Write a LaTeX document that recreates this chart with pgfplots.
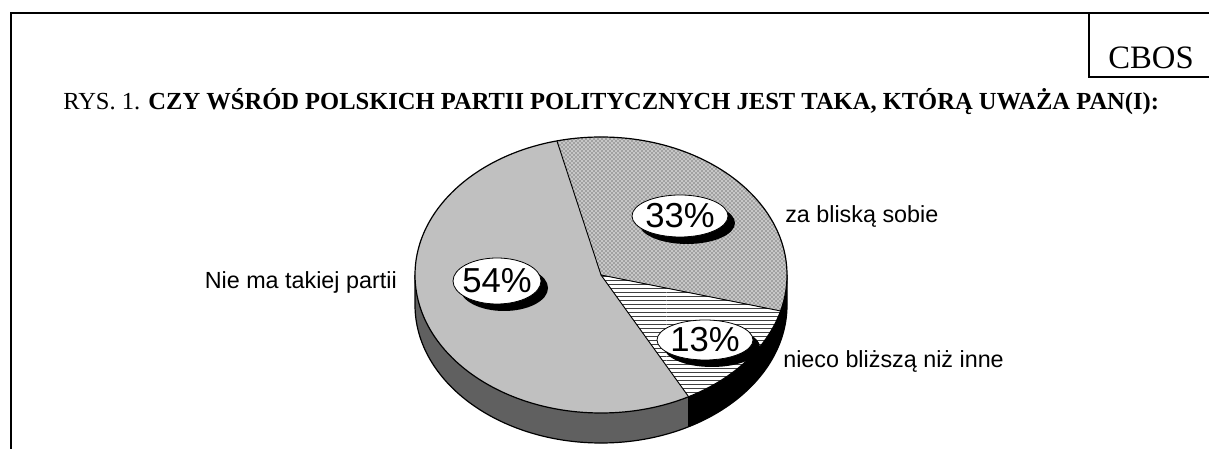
\documentclass[border=0pt]{standalone}
\usepackage{pgfplots}
\pgfplotsset{compat=1.18}
\usepackage{pgfplotstable}
\usetikzlibrary{patterns}
\usepackage{fontspec}
\setmainfont{Liberation Serif}
\newfontfamily\arial{Liberation Sans}

\pgfplotstableread[col sep=comma]{
name,value
za bliską sobie,33
nieco bliższą niż inne,13
Nie ma takiej partii,54
}\pietable
\pgfplotstablegetelem{0}{value}\of\pietable \let\va\pgfplotsretval
\pgfplotstablegetelem{1}{value}\of\pietable \let\vb\pgfplotsretval
\pgfplotstablegetelem{2}{value}\of\pietable \let\vc\pgfplotsretval
\pgfmathsetmacro\tA{103.7}
\pgfmathsetmacro\tB{\tA-3.6*\va}
\pgfmathsetmacro\tC{\tB-3.6*\vb}
\pgfmathsetmacro\tD{\tC-3.6*\vc}
\def\cx{601}\def\cy{174}\def\rx{186}\def\ry{138}
\def\RX{139.5pt}\def\RY{103.5pt}\def\DEP{22.5pt}
\newcommand\ep[1]{(axis cs:{\cx+\rx*cos(#1)},{\cy+\ry*sin(#1)})}
\definecolor{piegray}{RGB}{192,192,192}
\definecolor{sidegray}{RGB}{96,96,96}

\begin{document}
\begin{tikzpicture}
\begin{axis}[width=906.75pt,height=336.75pt,scale only axis,hide axis,
  xmin=0,xmax=1209,ymin=0,ymax=449,clip=false]
\path (axis cs:0,0) rectangle (axis cs:1209,449);
% frame
\draw[line width=1.6pt] (axis cs:11,0) -- (axis cs:11,436) -- (axis cs:1209,436);
\draw[line width=1.6pt] (axis cs:1089,436) -- (axis cs:1089,372) -- (axis cs:1209,372);
\node[anchor=base, font=\fontsize{24.5pt}{26pt}\selectfont, inner sep=0pt] at (axis cs:1151,380) {CBOS};
\node[anchor=base west, font=\fontsize{18.4pt}{20pt}\selectfont, inner sep=0pt] at (axis cs:63,339)
  {RYS. 1. \textbf{CZY WŚRÓD POLSKICH PARTII POLITYCZNYCH JEST TAKA, KTÓRĄ UWAŻA PAN(I):}};
% sides
\fill[sidegray] \ep{-180} arc[start angle=-180, end angle=\tC, x radius=\RX, y radius=\RY]
   -- ++(0pt,-\DEP) arc[start angle=\tC, end angle=-180, x radius=\RX, y radius=\RY] -- cycle;
\fill[black] \ep{\tC} arc[start angle=\tC, end angle=0, x radius=\RX, y radius=\RY]
   -- ++(0pt,-\DEP) arc[start angle=0, end angle=\tC, x radius=\RX, y radius=\RY] -- cycle;
\draw[line width=0.9pt] \ep{-180} -- ++(0pt,-\DEP) arc[start angle=-180, end angle=0, x radius=\RX, y radius=\RY] -- ++(0pt,\DEP);
\draw[line width=0.9pt] \ep{\tC} -- ++(0pt,-\DEP);
% top slices
\fill[black!22] (axis cs:\cx,\cy) -- \ep{\tA} arc[start angle=\tA, end angle=\tB, x radius=\RX, y radius=\RY] -- cycle;
\fill[pattern=crosshatch dots, pattern color=black!85] (axis cs:\cx,\cy) -- \ep{\tA} arc[start angle=\tA, end angle=\tB, x radius=\RX, y radius=\RY] -- cycle;
\fill[white] (axis cs:\cx,\cy) -- \ep{\tB} arc[start angle=\tB, end angle=\tC, x radius=\RX, y radius=\RY] -- cycle;
\fill[pattern=horizontal lines, pattern color=black!75] (axis cs:\cx,\cy) -- \ep{\tB} arc[start angle=\tB, end angle=\tC, x radius=\RX, y radius=\RY] -- cycle;
\fill[piegray] (axis cs:\cx,\cy) -- \ep{\tC} arc[start angle=\tC, end angle=\tD, x radius=\RX, y radius=\RY] -- cycle;
\draw[line width=0.9pt] (axis cs:\cx,\cy) ellipse[x radius=\RX, y radius=\RY];
\draw[line width=0.7pt] \ep{\tA} -- (axis cs:\cx,\cy) -- \ep{\tB};
\draw[line width=0.7pt] (axis cs:\cx,\cy) -- \ep{\tC};
% percentage labels
\fill (axis cs:504,161) ellipse[x radius=33pt, y radius=17.25pt];
\filldraw[fill=white, line width=0.6pt] (axis cs:497,168) ellipse[x radius=33pt, y radius=17.25pt];
\node[font=\arial\fontsize{26pt}{28pt}\selectfont, inner sep=0pt] at (axis cs:497,168) {\vc\%};
\fill (axis cs:687,226) ellipse[x radius=36pt, y radius=15.75pt];
\filldraw[fill=white, line width=0.6pt] (axis cs:680,233) ellipse[x radius=36pt, y radius=15.75pt];
\node[font=\arial\fontsize{26pt}{28pt}\selectfont, inner sep=0pt] at (axis cs:680,233) {\va\%};
\fill (axis cs:712,102) ellipse[x radius=36pt, y radius=15pt];
\filldraw[fill=white, line width=0.6pt] (axis cs:705,109) ellipse[x radius=36pt, y radius=15pt];
\node[font=\arial\fontsize{26pt}{28pt}\selectfont, inner sep=0pt] at (axis cs:705,109) {\vb\%};
% category labels
\node[anchor=west, font=\arial\fontsize{17.5pt}{19pt}\selectfont, inner sep=0pt] at (axis cs:785,233) {za bliską sobie};
\node[anchor=west, font=\arial\fontsize{17.5pt}{19pt}\selectfont, inner sep=0pt] at (axis cs:783,88) {nieco bliższą niż inne};
\node[anchor=east, font=\arial\fontsize{17.5pt}{19pt}\selectfont, inner sep=0pt] at (axis cs:397,167) {Nie ma takiej partii};
\end{axis}
\pgfresetboundingbox
\path (0,0) rectangle (906.75pt,336.75pt);
\end{tikzpicture}
\end{document}
